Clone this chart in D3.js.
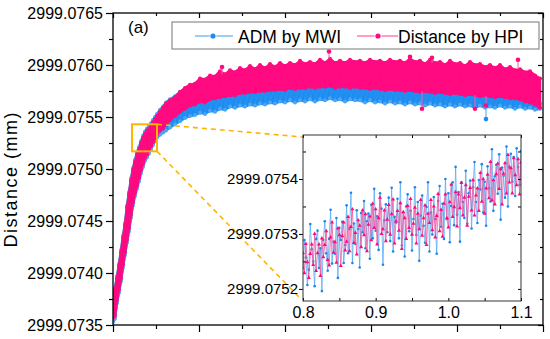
<!DOCTYPE html>
<html><head><meta charset="utf-8">
<script src="https://cdn.jsdelivr.net/npm/d3@7"></script>
<style>
html,body{margin:0;padding:0;background:#fff;}
svg{display:block;font-family:"Liberation Sans",Arial,Helvetica,sans-serif;}
</style></head><body>
<svg id="chart" width="550" height="339"></svg>
<script>
// ---------------- DATA ----------------
// main plot: sample times (axis unlabeled) and band envelopes (mm)
const mainTime = [0.572,0.596,0.620,0.644,0.668,0.692,0.716,0.740,0.764,0.788,0.812,0.836,0.860,0.884,0.908,0.932,0.956,0.980,1.004,1.028,1.052,1.076,1.100,1.136,1.172,1.208,1.256,1.316,1.376,1.436,1.496,
1.556,1.616,1.676,1.736,1.796,1.856,1.916,1.976,2.036,2.096,2.156,2.216,2.276,2.336,2.396,2.456,2.516,2.576,2.636,2.696,2.756,2.816,2.876,2.936,2.996,3.056,3.116,3.176,3.236,3.296,3.356,3.416,3.476,3.536,3.596,3.656,3.716,3.776,3.836,3.896,3.956,4.016,4.076,4.136,4.196,4.256,4.316,4.376,4.436,4.496,4.556,4.616,4.676,4.736,4.796,4.856,4.916,4.976,5.036,5.096,5.156,5.216,5.276,5.336,5.396,5.456,5.516,5.576,5.636,5.696];

const hpiHigh = [2999.07372,2999.07384,2999.07395,2999.07407,2999.07420,2999.07434,2999.07446,2999.07463,2999.07476,2999.07489,2999.07499,2999.07507,2999.07514,2999.07519,2999.07525,2999.07530,2999.07534,2999.07537,2999.07539,2999.07542,2999.07545,2999.07548,2999.07551,2999.07555,2999.07559,2999.07563,2999.07566,2999.07569,2999.07574,2999.07578,2999.07581,
2999.07582,2999.07587,2999.07586,2999.07590,2999.07589,2999.07594,2999.07591,2999.07595,2999.07593,2999.07597,
2999.07595,2999.07599,2999.07596,2999.07600,2999.07597,2999.07601,2999.07598,2999.07602,2999.07599,2999.07602,
2999.07600,2999.07604,2999.07601,2999.07603,2999.07601,2999.07605,2999.07602,2999.07606,2999.07602,2999.07604,
2999.07602,2999.07605,2999.07603,2999.07604,2999.07602,2999.07605,2999.07603,2999.07604,2999.07602,2999.07605,
2999.07603,2999.07604,2999.07602,2999.07606,2999.07603,2999.07604,2999.07601,2999.07605,2999.07602,2999.07603,
2999.07600,2999.07604,2999.07601,2999.07602,2999.07599,2999.07603,2999.07600,2999.07601,2999.07598,2999.07600,
2999.07597,2999.07600,2999.07596,2999.07598,2999.07595,2999.07596,2999.07593,2999.07594,2999.07590,2999.07587];

const hpiLow = [2999.07357,2999.07359,2999.07374,2999.07384,2999.07395,2999.07408,2999.07420,2999.07432,2999.07443,2999.07456,2999.07468,2999.07477,2999.07484,2999.07491,2999.07499,2999.07505,2999.07511,2999.07514,2999.07518,2999.07522,2999.07526,2999.07530,2999.07533,2999.07537,2999.07539,2999.07543,2999.07547,2999.07551,2999.07555,2999.07558,2999.07561,
2999.07562,2999.07565,2999.07564,2999.07567,2999.07568,2999.07569,2999.07570,2999.07571,2999.07571,2999.07573,
2999.07573,2999.07574,2999.07574,2999.07575,2999.07575,2999.07576,2999.07576,2999.07577,2999.07576,2999.07578,
2999.07577,2999.07578,2999.07578,2999.07579,2999.07578,2999.07579,2999.07579,2999.07580,2999.07578,2999.07579,
2999.07579,2999.07578,2999.07579,2999.07578,2999.07578,2999.07577,2999.07578,2999.07577,2999.07576,2999.07577,
2999.07576,2999.07576,2999.07575,2999.07576,2999.07575,2999.07574,2999.07575,2999.07574,2999.07573,2999.07574,
2999.07573,2999.07572,2999.07573,2999.07572,2999.07571,2999.07572,2999.07571,2999.07570,2999.07571,2999.07570,
2999.07569,2999.07570,2999.07569,2999.07568,2999.07568,2999.07567,2999.07565,2999.07564,2999.07562,2999.07559];

const admHigh = [2999.07374,2999.07386,2999.07397,2999.07409,2999.07422,2999.07436,2999.07448,2999.07465,2999.07478,2999.07491,2999.07501,2999.07509,2999.07516,2999.07521,2999.07527,2999.07532,2999.07536,2999.07539,2999.07541,2999.07544,2999.07547,2999.07550,2999.07553,2999.07557,2999.07560,2999.07564,2999.07567,2999.07570,2999.07574,2999.07577,2999.07580,
2999.07566,2999.07569,2999.07568,2999.07571,2999.07572,2999.07573,2999.07574,2999.07575,2999.07575,2999.07577,
2999.07577,2999.07578,2999.07578,2999.07579,2999.07579,2999.07580,2999.07580,2999.07581,2999.07580,2999.07582,
2999.07581,2999.07582,2999.07582,2999.07583,2999.07582,2999.07583,2999.07583,2999.07584,2999.07582,2999.07583,
2999.07583,2999.07582,2999.07583,2999.07582,2999.07582,2999.07581,2999.07582,2999.07581,2999.07580,2999.07581,
2999.07580,2999.07580,2999.07579,2999.07580,2999.07579,2999.07578,2999.07579,2999.07578,2999.07577,2999.07578,
2999.07577,2999.07576,2999.07577,2999.07576,2999.07575,2999.07576,2999.07575,2999.07574,2999.07575,2999.07574,
2999.07573,2999.07574,2999.07573,2999.07572,2999.07572,2999.07571,2999.07569,2999.07568,2999.07566,2999.07563];

const admLow = [2999.07353,2999.07356,2999.07371,2999.07381,2999.07392,2999.07405,2999.07417,2999.07429,2999.07440,2999.07453,2999.07465,2999.07474,2999.07481,2999.07488,2999.07496,2999.07502,2999.07508,2999.07511,2999.07515,2999.07519,2999.07523,2999.07527,2999.07530,2999.07533,2999.07535,2999.07537,2999.07540,2999.07543,2999.07546,2999.07549,2999.07551,
2999.07552,2999.07554,2999.07553,2999.07556,2999.07555,2999.07558,2999.07557,2999.07560,2999.07559,2999.07561,
2999.07560,2999.07562,2999.07561,2999.07563,2999.07562,2999.07564,2999.07563,2999.07565,2999.07564,2999.07566,
2999.07564,2999.07566,2999.07565,2999.07567,2999.07565,2999.07567,2999.07566,2999.07568,2999.07566,2999.07567,
2999.07565,2999.07567,2999.07566,2999.07566,2999.07564,2999.07566,2999.07564,2999.07565,2999.07563,2999.07565,
2999.07563,2999.07564,2999.07562,2999.07564,2999.07562,2999.07563,2999.07561,2999.07563,2999.07561,2999.07562,
2999.07560,2999.07562,2999.07560,2999.07562,2999.07560,2999.07561,2999.07559,2999.07561,2999.07559,2999.07560,
2999.07559,2999.07561,2999.07559,2999.07560,2999.07558,2999.07560,2999.07558,2999.07559,2999.07557,2999.07558];

// isolated outliers
const hpiOutTime = [1.880,3.164,4.136,4.400,5.432,4.280,4.916,5.048];
const hpiOutVal  = [2999.07598,2999.07613,2999.07608,2999.07607,2999.07605,2999.07558,2999.07558,2999.07561];
const admOutTime = [5.048];
const admOutVal  = [2999.07548];

// inset (zoom window 0.8 - 1.1)
const insetTime = [0.800,0.802,0.804,0.806,0.808,0.810,0.812,0.814,0.816,0.818,0.820,0.822,0.824,0.826,0.828,0.830,0.832,0.834,0.836,0.838,
0.840,0.842,0.844,0.846,0.848,0.850,0.852,0.854,0.856,0.858,0.860,0.862,0.864,0.866,0.868,0.870,0.872,0.874,0.876,0.878,
0.880,0.882,0.884,0.886,0.888,0.890,0.892,0.894,0.896,0.898,0.900,0.902,0.904,0.906,0.908,0.910,0.912,0.914,0.916,0.918,
0.920,0.922,0.924,0.926,0.928,0.930,0.932,0.934,0.936,0.938,0.940,0.942,0.944,0.946,0.948,0.950,0.952,0.954,0.956,0.958,
0.960,0.962,0.964,0.966,0.968,0.970,0.972,0.974,0.976,0.978,0.980,0.982,0.984,0.986,0.988,0.990,0.992,0.994,0.996,0.998,
1.000,1.002,1.004,1.006,1.008,1.010,1.012,1.014,1.016,1.018,1.020,1.022,1.024,1.026,1.028,1.030,1.032,1.034,1.036,1.038,
1.040,1.042,1.044,1.046,1.048,1.050,1.052,1.054,1.056,1.058,1.060,1.062,1.064,1.066,1.068,1.070,1.072,1.074,1.076,1.078,
1.080,1.082,1.084,1.086,1.088,1.090,1.092,1.094,1.096,1.098,1.100];

const admInset = [2999.075238,2999.075289,2999.075257,2999.075207,2999.075235,2999.075318,2999.075272,2999.075250,2999.075205,2999.075291,2999.075306,2999.075238,2999.075274,2999.075196,2999.075289,2999.075323,2999.075265,2999.075233,2999.075291,2999.075344,
2999.075246,2999.075286,2999.075264,2999.075329,2999.075220,2999.075311,2999.075289,2999.075322,2999.075247,2999.075280,2999.075352,2999.075265,2999.075309,2999.075375,2999.075247,2999.075319,2999.075282,2999.075343,2999.075309,2999.075239,
2999.075338,2999.075303,2999.075360,2999.075274,2999.075323,2999.075337,2999.075255,2999.075353,2999.075292,2999.075382,2999.075306,2999.075332,2999.075271,2999.075374,2999.075346,2999.075244,2999.075325,2999.075354,2999.075303,2999.075366,
2999.075287,2999.075384,2999.075268,2999.075331,2999.075321,2999.075364,2999.075292,2999.075394,2999.075279,2999.075338,2999.075259,2999.075350,2999.075372,2999.075305,2999.075342,2999.075270,2999.075327,2999.075385,2999.075298,2999.075358,
2999.075251,2999.075333,2999.075370,2999.075315,2999.075284,2999.075349,2999.075394,2999.075268,2999.075339,2999.075299,2999.075367,2999.075327,2999.075264,2999.075360,2999.075387,2999.075313,2999.075355,2999.075291,2999.075400,2999.075327,
2999.075374,2999.075285,2999.075351,2999.075394,2999.075316,2999.075422,2999.075335,2999.075376,2999.075286,2999.075394,2999.075358,2999.075329,2999.075415,2999.075319,2999.075374,2999.075397,2999.075310,2999.075385,2999.075431,2999.075358,
2999.075320,2999.075398,2999.075381,2999.075427,2999.075339,2999.075395,2999.075315,2999.075423,2999.075383,2999.075359,2999.075454,2999.075342,2999.075405,2999.075426,2999.075373,2999.075445,2999.075326,2999.075421,2999.075406,2999.075366,
2999.075459,2999.075350,2999.075422,2999.075446,2999.075395,2999.075440,2999.075369,2999.075456,2999.075422,2999.075389,2999.075451];

const hpiInset = [2999.075265,2999.075229,2999.075282,2999.075249,2999.075220,2999.075264,2999.075281,2999.075244,2999.075300,2999.075233,2999.075265,2999.075281,2999.075224,2999.075292,2999.075258,2999.075280,2999.075305,2999.075253,2999.075243,2999.075294,
2999.075321,2999.075266,2999.075285,2999.075248,2999.075310,2999.075298,2999.075242,2999.075296,2999.075321,2999.075270,2999.075286,2999.075331,2999.075269,2999.075313,2999.075345,2999.075284,2999.075302,2999.075263,2999.075325,2999.075315,
2999.075276,2999.075343,2999.075298,2999.075336,2999.075269,2999.075317,2999.075332,2999.075289,2999.075355,2999.075311,2999.075345,2999.075281,2999.075329,2999.075366,2999.075300,2999.075309,2999.075343,2999.075287,2999.075326,2999.075353,
2999.075299,2999.075336,2999.075363,2999.075283,2999.075323,2999.075342,2999.075306,2999.075356,2999.075273,2999.075340,2999.075329,2999.075291,2999.075351,2999.075311,2999.075364,2999.075299,2999.075319,2999.075348,2999.075283,2999.075337,
2999.075309,2999.075362,2999.075297,2999.075329,2999.075352,2999.075280,2999.075337,2999.075320,2999.075362,2999.075307,2999.075350,2999.075294,2999.075333,2999.075373,2999.075305,2999.075344,2999.075295,2999.075355,2999.075372,2999.075329,
2999.075312,2999.075358,2999.075390,2999.075331,2999.075349,2999.075376,2999.075314,2999.075372,2999.075347,2999.075393,2999.075334,2999.075366,2999.075389,2999.075315,2999.075368,2999.075384,2999.075343,2999.075398,2999.075334,2999.075370,
2999.075383,2999.075342,2999.075411,2999.075359,2999.075400,2999.075337,2999.075383,2999.075408,2999.075365,2999.075431,2999.075361,2999.075398,2999.075354,2999.075409,2999.075428,2999.075382,2999.075418,2999.075354,2999.075410,2999.075429,
2999.075374,2999.075444,2999.075394,2999.075420,2999.075374,2999.075438,2999.075407,2999.075389,2999.075436,2999.075372,2999.075430];

// axes / labels
const mainTimeDomain = [0.572, 5.732];
const mainDistDomain = [2999.0735, 2999.0765];
const yMajor = [2999.0735,2999.0740,2999.0745,2999.0750,2999.0755,2999.0760,2999.0765];
const yLabels = ["2999.0735","2999.0740","2999.0745","2999.0750","2999.0755","2999.0760","2999.0765"];
const yMinor = [2999.07375,2999.07425,2999.07475,2999.07525,2999.07575,2999.07625];
const xTickCount = 10;

const zoomTime = [0.8, 1.1];
const zoomDist = [2999.07517, 2999.07543];
const insetDistDomain = [2999.075178, 2999.07548];
const insetYMajor = [2999.0752,2999.0753,2999.0754];
const insetYLabels = ["2999.0752","2999.0753","2999.0754"];
const insetYMinor = [2999.07525,2999.07535,2999.07545];
const insetXMajor = [0.8,0.9,1.0,1.1];
const insetXLabels = ["0.8","0.9","1.0","1.1"];
const insetXMinor = [0.85,0.95,1.05];

const seriesNames = ["ADM by MWI","Distance by HPI"];
const yTitle = "Distance (mm)";
const panelTag = "(a)";

// ---------------- DRAW ----------------
const BLUE = "#1c8cf0", BLUE_L = "#4aa6f5", PINK = "#ff0a80", ORANGE = "#ffb400";
const svg = d3.select("#chart");
const P = {l:113, r:543, t:13, b:325};
const x = d3.scaleLinear().domain(mainTimeDomain).range([P.l, P.r]);
const y = d3.scaleLinear().domain(mainDistDomain).range([P.b, P.t]);

svg.append("defs").append("clipPath").attr("id","clipMain")
  .append("rect").attr("x",P.l).attr("y",P.t).attr("width",P.r-P.l).attr("height",P.b-P.t);

const idx = d3.range(Math.min(mainTime.length, hpiHigh.length, hpiLow.length, admHigh.length, admLow.length));
const plot = svg.append("g").attr("clip-path","url(#clipMain)");

function band(hi, lo, color, dotColor){
  const g = plot.append("g");
  g.append("path").datum(idx)
    .attr("d", d3.area().x(i=>x(mainTime[i])).y0(i=>y(lo[i])).y1(i=>y(hi[i])))
    .attr("fill", color).attr("stroke", color).attr("stroke-width", 2.5).attr("stroke-linejoin","round");
  const zz = [];
  idx.forEach(i=>{ zz.push([x(mainTime[i]), y(hi[i])]); zz.push([x(mainTime[i]), y(lo[i])]); });
  g.append("path").attr("d", d3.line()(zz)).attr("fill","none").attr("stroke",dotColor).attr("stroke-width",0.6).attr("opacity",0.5);
  g.selectAll("circle.h").data(idx).join("circle")
    .attr("cx",i=>x(mainTime[i])).attr("cy",i=>y(hi[i])).attr("r",2).attr("fill",dotColor);
  g.selectAll("circle.l").data(idx).join("circle")
    .attr("cx",i=>x(mainTime[i])).attr("cy",i=>y(lo[i])).attr("r",2).attr("fill",dotColor);
  return g;
}
band(admHigh, admLow, BLUE, BLUE_L);

function outliers(times, vals, hi, lo, color, line){
  times.forEach((t,k)=>{
    const j = Math.min(d3.bisectLeft(mainTime, t), mainTime.length-1);
    const base = vals[k] > hi[j] ? hi[j] : lo[j];
    plot.append("line").attr("x1",x(t)).attr("x2",x(t)).attr("y1",y(base)).attr("y2",y(vals[k]))
      .attr("stroke",line).attr("stroke-width",1);
    plot.append("circle").attr("cx",x(t)).attr("cy",y(vals[k])).attr("r",2.3).attr("fill",color);
  });
}
outliers(admOutTime, admOutVal, admHigh, admLow, BLUE, BLUE_L);
band(hpiHigh, hpiLow, PINK, PINK);
outliers(hpiOutTime, hpiOutVal, hpiHigh, hpiLow, PINK, "#ff5aa5");

// ---- main axes ----
const fontMain = "16px";
function styleAxis(g){ g.select(".domain").remove(); g.selectAll("line").attr("stroke","#000").attr("stroke-width",1.2); g.selectAll("text").attr("fill","#000").style("font-size",fontMain); }
const xt = d3.range(xTickCount+1).map(i => mainTimeDomain[0] + i*(mainTimeDomain[1]-mainTimeDomain[0])/xTickCount);
const xMaj = xt.filter((d,i)=>i%2===0), xMin = xt.filter((d,i)=>i%2===1);

svg.append("g").attr("transform",`translate(${P.l},0)`)
  .call(d3.axisLeft(y).tickValues(yMajor).tickSize(7).tickPadding(3).tickFormat((d,i)=>yLabels[i])).call(styleAxis);
svg.append("g").attr("transform",`translate(${P.l},0)`)
  .call(d3.axisLeft(y).tickValues(yMinor).tickSize(4).tickFormat("")).call(styleAxis);
svg.append("g").attr("transform",`translate(${P.r},0)`)
  .call(d3.axisLeft(y).tickValues(yMajor).tickSize(5).tickFormat("")).call(styleAxis);
svg.append("g").attr("transform",`translate(${P.r},0)`)
  .call(d3.axisLeft(y).tickValues(yMinor).tickSize(3).tickFormat("")).call(styleAxis);
svg.append("g").attr("transform",`translate(0,${P.b})`)
  .call(d3.axisBottom(x).tickValues(xMaj).tickSize(7).tickFormat("")).call(styleAxis);
svg.append("g").attr("transform",`translate(0,${P.b})`)
  .call(d3.axisBottom(x).tickValues(xMin).tickSize(4).tickFormat("")).call(styleAxis);
svg.append("g").attr("transform",`translate(0,${P.t})`)
  .call(d3.axisBottom(x).tickValues(xMaj).tickSize(5).tickFormat("")).call(styleAxis);
svg.append("g").attr("transform",`translate(0,${P.t})`)
  .call(d3.axisBottom(x).tickValues(xMin).tickSize(3).tickFormat("")).call(styleAxis);
svg.append("rect").attr("x",P.l).attr("y",P.t).attr("width",P.r-P.l).attr("height",P.b-P.t)
  .attr("fill","none").attr("stroke","#000").attr("stroke-width",1.3);

// y title
svg.append("text").attr("transform",`translate(17,180) rotate(-90)`).attr("text-anchor","middle")
  .attr("textLength",135).attr("lengthAdjust","spacing")
  .style("font-size","18px").attr("fill","#000").text(yTitle);
// panel tag
svg.append("text").attr("x",128).attr("y",33).style("font-size","17px").attr("fill","#000").text(panelTag);

// ---- inset ----
const I = {l:303, r:521, t:135, b:301};
const xi = d3.scaleLinear().domain(zoomTime).range([I.l, I.r]);
const yi = d3.scaleLinear().domain(insetDistDomain).range([I.b, I.t]);

const bx0 = x(zoomTime[0]), bx1 = x(zoomTime[1]), by0 = y(zoomDist[1]), by1 = y(zoomDist[0]);
svg.append("line").attr("x1",bx1).attr("y1",by0).attr("x2",I.l).attr("y2",I.t+2)
  .attr("stroke",ORANGE).attr("stroke-width",1.6).attr("stroke-dasharray","5,4");
svg.append("line").attr("x1",bx1).attr("y1",by1).attr("x2",I.l-4).attr("y2",I.b-4)
  .attr("stroke",ORANGE).attr("stroke-width",1.6).attr("stroke-dasharray","5,4");
svg.append("rect").attr("x",bx0).attr("y",by0).attr("width",bx1-bx0).attr("height",by1-by0)
  .attr("fill","none").attr("stroke",ORANGE).attr("stroke-width",2);

svg.append("rect").attr("x",I.l).attr("y",I.t).attr("width",I.r-I.l).attr("height",I.b-I.t).attr("fill","#fff");
svg.append("defs").append("clipPath").attr("id","clipInset")
  .append("rect").attr("x",I.l).attr("y",I.t).attr("width",I.r-I.l).attr("height",I.b-I.t);
const ig = svg.append("g").attr("clip-path","url(#clipInset)");
const iidx = d3.range(Math.min(insetTime.length, admInset.length, hpiInset.length));
ig.append("path").datum(iidx).attr("d", d3.line().x(i=>xi(insetTime[i])).y(i=>yi(admInset[i])))
  .attr("fill","none").attr("stroke","#5aabf2").attr("stroke-width",0.8);
ig.selectAll("circle.b").data(iidx).join("circle")
  .attr("cx",i=>xi(insetTime[i])).attr("cy",i=>yi(admInset[i])).attr("r",1.3).attr("fill","#1a86ec");
ig.append("path").datum(iidx).attr("d", d3.line().x(i=>xi(insetTime[i])).y(i=>yi(hpiInset[i])))
  .attr("fill","none").attr("stroke","#f2559d").attr("stroke-width",0.8);
const tri = d3.symbol().type(d3.symbolTriangle).size(7);
ig.selectAll("path.p").data(iidx).join("path")
  .attr("transform",i=>`translate(${xi(insetTime[i])},${yi(hpiInset[i])})`).attr("d",tri).attr("fill","#ff0a7c");

function styleI(g, fs){ g.select(".domain").remove(); g.selectAll("line").attr("stroke","#000").attr("stroke-width",1); g.selectAll("text").attr("fill","#000").style("font-size",fs); }
svg.append("g").attr("transform",`translate(${I.l},0)`)
  .call(d3.axisLeft(yi).tickValues(insetYMajor).tickSize(4).tickPadding(1).tickFormat((d,i)=>insetYLabels[i])).call(g=>styleI(g,"15px"));
svg.append("g").attr("transform",`translate(${I.l},0)`)
  .call(d3.axisRight(yi).tickValues(insetYMinor).tickSize(3).tickFormat("")).call(g=>styleI(g,"15px"));
svg.append("g").attr("transform",`translate(${I.r},0)`)
  .call(d3.axisLeft(yi).tickValues(insetYMajor.concat(insetYMinor)).tickSize(3).tickFormat("")).call(g=>styleI(g,"15px"));
svg.append("g").attr("transform",`translate(0,${I.b})`)
  .call(d3.axisBottom(xi).tickValues(insetXMajor).tickSize(0).tickPadding(6).tickFormat((d,i)=>insetXLabels[i])).call(g=>styleI(g,"16px"));
svg.append("g").attr("transform",`translate(0,${I.b})`)
  .call(d3.axisTop(xi).tickValues(insetXMajor.concat(insetXMinor)).tickSize(3).tickFormat("")).call(g=>styleI(g,"16px"));
svg.append("g").attr("transform",`translate(0,${I.t})`)
  .call(d3.axisBottom(xi).tickValues(insetXMajor.concat(insetXMinor)).tickSize(3).tickFormat("")).call(g=>styleI(g,"16px"));
svg.append("rect").attr("x",I.l).attr("y",I.t).attr("width",I.r-I.l).attr("height",I.b-I.t)
  .attr("fill","none").attr("stroke","#333").attr("stroke-width",1);

// ---- legend ----
const lg = svg.append("g");
lg.append("rect").attr("x",172).attr("y",22).attr("width",367).attr("height",27)
  .attr("fill","#fff").attr("stroke","#777").attr("stroke-width",1);
const legItems = [
  {name:seriesNames[0], x1:195, x2:233, xd:213, xt:238, color:BLUE, line:"#3a9cf2"},
  {name:seriesNames[1], x1:357, x2:398, xd:378, xt:398, color:PINK, line:"#ff3a92"}
];
legItems.forEach(d=>{
  lg.append("line").attr("x1",d.x1).attr("x2",d.x2).attr("y1",36).attr("y2",36).attr("stroke",d.line).attr("stroke-width",1.2);
  lg.append("circle").attr("cx",d.xd).attr("cy",36).attr("r",2.6).attr("fill",d.color).attr("stroke","#fff").attr("stroke-width",1.8);
  lg.append("circle").attr("cx",d.xd).attr("cy",36).attr("r",2.6).attr("fill",d.color);
  lg.append("text").attr("x",d.xt).attr("y",43).style("font-size","17.5px").attr("fill","#000").text(d.name);
});
</script>
</body></html>
